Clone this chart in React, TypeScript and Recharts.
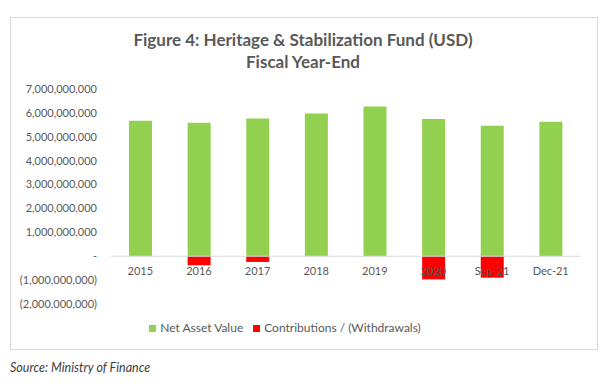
import React from "react";
import { BarChart, Bar, XAxis, YAxis, Legend, ReferenceLine } from "recharts";

const periods = ["2015", "2016", "2017", "2018", "2019", "2020", "Sep-21", "Dec-21"];
const netAssetValue = [5.67e9, 5.59e9, 5.76e9, 5.97e9, 6.27e9, 5.74e9, 5.46e9, 5.63e9];
const contributions = [0, -0.38e9, -0.24e9, 0, 0, -0.97e9, -0.9e9, 0];
const yTicks = [-2e9, -1e9, 0, 1e9, 2e9, 3e9, 4e9, 5e9, 6e9, 7e9];
const seriesOrder = ["nav", "flow"];

const data = periods.map((period, i) => ({
  period,
  nav: netAssetValue[i],
  flow: contributions[i],
}));

const font = "Lato, 'Open Sans', sans-serif";
const textColor = "#595959";

function formatAmount(v: number) {
  if (v === 0) return "-";
  const s = Math.abs(v).toLocaleString("en-US");
  return v < 0 ? `(${s})` : s;
}

export default function App() {
  return (
    <div
      style={{
        position: "absolute",
        left: 0,
        top: 0,
        width: 612,
        height: 392,
        background: "#fff",
        fontFamily: font,
      }}
    >
      <div
        style={{
          position: "absolute",
          left: 10,
          top: 17,
          width: 586,
          height: 331,
          border: "1px solid #d9d9d9",
        }}
      />
      <div
        style={{
          position: "absolute",
          left: 0,
          top: 29,
          width: 606,
          textAlign: "center",
          color: textColor,
          fontWeight: 700,
          fontSize: 17,
          lineHeight: "22px",
        }}
      >
        Figure 4: Heritage &amp; Stabilization Fund (USD)
        <br />
        Fiscal Year-End
      </div>
      <div style={{ position: "absolute", left: 0, top: 0 }}>
        <BarChart
          width={612}
          height={392}
          data={data}
          stackOffset="sign"
          margin={{ top: 89, right: 32, left: 0, bottom: 63 }}
        >
          <XAxis
            dataKey="period"
            axisLine={false}
            tickLine={false}
            tickSize={0}
            tickMargin={-37}
            height={10}
            interval={0}
            tick={{ fill: textColor, fontSize: 11, fontFamily: font }}
          />
          <YAxis
            width={111}
            domain={[-2e9, 7e9]}
            ticks={yTicks}
            interval={0}
            axisLine={false}
            tickLine={false}
            tickSize={0}
            tickMargin={14}
            tickFormatter={formatAmount}
            tick={{ fill: textColor, fontSize: 11, fontFamily: font }}
          />
          <ReferenceLine y={0} stroke="#d9d9d9" strokeWidth={1} />
          <Bar
            dataKey="nav"
            name="Net Asset Value"
            stackId="a"
            fill="#92D050"
            barSize={23}
            isAnimationActive={false}
          />
          <Bar
            dataKey="flow"
            name="Contributions / (Withdrawals)"
            stackId="a"
            fill="#FF0000"
            barSize={23}
            isAnimationActive={false}
          />
          <Legend
            verticalAlign="bottom"
            iconType="square"
            iconSize={7}
            itemSorter={(item: any) => seriesOrder.indexOf(String(item.dataKey))}
            wrapperStyle={{ top: 320, bottom: "auto", fontSize: 12, fontFamily: font }}
            formatter={(value) => <span style={{ color: textColor }}>{value}</span>}
          />
        </BarChart>
      </div>
      <div
        style={{
          position: "absolute",
          left: 10,
          top: 360,
          fontStyle: "italic",
          fontSize: 12.5,
          color: "#404040",
        }}
      >
        Source: Ministry of Finance
      </div>
    </div>
  );
}
